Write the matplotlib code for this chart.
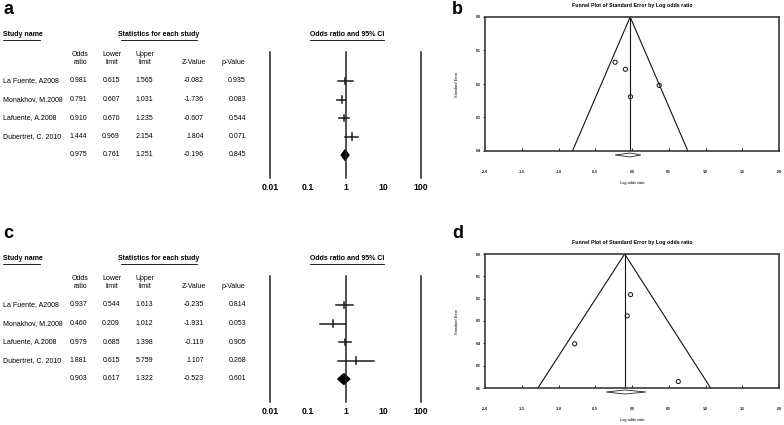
import numpy as np
import matplotlib.pyplot as plt
from matplotlib import font_manager, transforms
from matplotlib.lines import Line2D
from matplotlib.patches import Polygon

# --- data ---
studies = ['La Fuente, A2008', 'Monakhov, M.2008', 'Lafuente, A.2008', 'Dubertret, C. 2010']

# panel a (last entry = pooled)
a_or = [0.981, 0.791, 0.910, 1.444, 0.975]
a_lo = [0.615, 0.607, 0.670, 0.969, 0.761]
a_hi = [1.565, 1.031, 1.235, 2.154, 1.251]
a_z = [-0.082, -1.736, -0.607, 1.804, -0.196]
a_p = [0.935, 0.083, 0.544, 0.071, 0.845]

# panel c
c_or = [0.937, 0.460, 0.979, 1.881, 0.903]
c_lo = [0.544, 0.209, 0.685, 0.615, 0.617]
c_hi = [1.613, 1.012, 1.398, 5.759, 1.322]
c_z = [-0.235, -1.931, -0.119, 1.107, -0.523]
c_p = [0.814, 0.053, 0.905, 0.268, 0.601]

or_ticks = [0.01, 0.1, 1, 10, 100]
or_tick_labels = ['0.01', '0.1', '1', '10', '100']

# panel b funnel: log odds ratio vs standard error
b_lor = [-0.02, -0.23, -0.09, 0.37]
b_se = [0.238, 0.135, 0.156, 0.204]
b_pooled = -0.025
b_base = [-0.81, 0.76]
b_diamond = [-0.23, 0.12]

# panel d funnel
d_lor = [-0.065, -0.78, -0.02, 0.63]
d_se = [0.277, 0.402, 0.182, 0.571]
d_pooled = -0.10
d_base = [-1.28, 1.07]
d_diamond = [-0.35, 0.19]

fn_ticks = [-2.0, -1.5, -1.0, -0.5, 0.0, 0.5, 1.0, 1.5, 2.0]

names = {f.name for f in font_manager.fontManager.ttflist}
NARROW = 'Liberation Sans Narrow' in names
TFONT = ['Liberation Sans Narrow', 'Liberation Sans'] if NARROW else ['Liberation Sans']
TSIZE = 6 if NARROW else 5.0

W, H = 784, 425
fig = plt.figure(figsize=(W / 100, H / 100), dpi=100)
fig.patch.set_facecolor('white')


def ftext(x, y, s, **kw):
    kw.setdefault('family', TFONT)
    kw.setdefault('fontsize', TSIZE)
    kw.setdefault('va', 'center')
    return fig.text(x / W, 1 - y / H, s, **kw)


def fline(x0, x1, y0, y1, **kw):
    fig.add_artist(Line2D([x0 / W, x1 / W], [1 - y0 / H, 1 - y1 / H], **kw))


def add_ax(x0, y0, x1, y1):
    return fig.add_axes([x0 / W, 1 - y1 / H, (x1 - x0) / W, (y1 - y0) / H])


def forest_panel(dy, letter, odds, lower, upper, zval, pval):
    ftext(3, 9 + dy, letter, family='Liberation Sans', fontsize=13, fontweight='bold')
    ftext(3, 35 + dy, 'Study name', fontweight='bold')
    fline(3, 40, 40 + dy, 40 + dy, color='k', lw=0.6)
    ftext(159, 35 + dy, 'Statistics for each study', fontweight='bold', ha='center')
    fline(121, 197, 40 + dy, 40 + dy, color='k', lw=0.6)
    ftext(347, 35 + dy, 'Odds ratio and 95% CI', fontweight='bold', ha='center')
    fline(310, 384, 40 + dy, 40 + dy, color='k', lw=0.6)

    ftext(80, 59 + dy, 'Odds\nratio', ha='center', linespacing=1.2)
    ftext(112, 59 + dy, 'Lower\nlimit', ha='center', linespacing=1.2)
    ftext(145, 59 + dy, 'Upper\nlimit', ha='center', linespacing=1.2)
    ftext(194, 63 + dy, 'Z-Value', ha='center')
    ftext(233, 63 + dy, 'p-Value', ha='center')

    for i in range(5):
        y = 81 + 18.5 * i + dy
        if i < 4:
            ftext(3, y, studies[i])
        ftext(87, y, f'{odds[i]:.3f}', ha='right')
        ftext(120, y, f'{lower[i]:.3f}', ha='right')
        ftext(153, y, f'{upper[i]:.3f}', ha='right')
        ftext(204, y, f'{zval[i]:.3f}', ha='right')
        ftext(246, y, f'{pval[i]:.3f}', ha='right')

    ax = add_ax(270, 52 + dy, 421, 178 + dy)
    ax.set_xscale('log')
    ax.set_xlim(0.01, 100)
    ax.set_ylim(5.24, -1.57)
    ax.axis('off')
    for v in [0.01, 1, 100]:
        ax.axvline(v, color='#222222', lw=1.1, clip_on=False)
    for i in range(4):
        ax.plot([lower[i], upper[i]], [i, i], color='#1a1a1a', lw=1.1)
        ax.plot([odds[i], odds[i]], [i - 0.17, i + 0.17], color='#1a1a1a', lw=1.1)
    h = 0.3
    ax.add_patch(Polygon([(lower[4], 4), (odds[4], 4 - h), (upper[4], 4), (odds[4], 4 + h)],
                         closed=True, facecolor='black', edgecolor='black', lw=0.8))
    tr = transforms.blended_transform_factory(ax.transData, ax.transAxes)
    for v, lab in zip(or_ticks, or_tick_labels):
        ax.text(v, -0.075, lab, transform=tr, ha='center', va='center',
                family='Liberation Sans', fontsize=6.3, fontweight='bold')


def funnel_panel(dy, letter_y, letter, ymax, lor, se, pooled, base, diam):
    ftext(452, letter_y, letter, family='Liberation Sans', fontsize=13, fontweight='bold')
    ftext(632, 5 + dy, 'Funnel Plot of Standard Error by Log odds ratio',
          ha='center', fontsize=TSIZE * 0.75, fontweight='bold')
    ftext(457, 84 + dy, 'Standard Error', ha='center', rotation=90, fontsize=TSIZE * 0.55)
    ftext(632, 183 + dy, 'Log odds ratio', ha='center', fontsize=TSIZE * 0.55)

    ax = add_ax(485, 17 + dy, 779, 151 + dy)
    ax.set_xlim(-2, 2)
    ax.set_ylim(ymax, 0)
    for s in ax.spines.values():
        s.set_color('#3a3a3a')
        s.set_linewidth(1.2)
    ax.plot([base[0], pooled, base[1]], [ymax, 0, ymax], color='#111111', lw=0.8, clip_on=False)
    ax.plot([pooled, pooled], [0, ymax], color='#111111', lw=0.8)
    ax.scatter(lor, se, s=9, facecolors='none', edgecolors='#111111', linewidths=0.7, zorder=3)

    off = ymax * 4 / 134
    hh = ymax * 2 / 134
    ax.add_patch(Polygon([(diam[0], ymax + off), (pooled, ymax + off - hh),
                          (diam[1], ymax + off), (pooled, ymax + off + hh)],
                         closed=True, facecolor='white', edgecolor='#222222', lw=0.6,
                         clip_on=False))

    ax.set_xticks(fn_ticks)
    ax.set_xticklabels([f'{t:.1f}' for t in fn_ticks])
    yt = np.round(np.arange(0, ymax + 1e-9, 0.1), 1)
    ax.set_yticks(yt)
    ax.set_yticklabels([f'{t:.1f}' for t in yt])
    ax.tick_params(axis='x', direction='in', length=2, width=0.6, pad=14,
                   labelsize=TSIZE * 0.5)
    ax.tick_params(axis='y', direction='out', length=1.5, width=0.6, pad=1.5,
                   labelsize=TSIZE * 0.5)
    for lab in ax.get_xticklabels() + ax.get_yticklabels():
        lab.set_family(TFONT)
        lab.set_fontweight('bold')


forest_panel(0, 'a', a_or, a_lo, a_hi, a_z, a_p)
forest_panel(224, 'c', c_or, c_lo, c_hi, c_z, c_p)
funnel_panel(0, 9, 'b', 0.4, b_lor, b_se, b_pooled, b_base, b_diamond)
funnel_panel(237, 233, 'd', 0.6, d_lor, d_se, d_pooled, d_base, d_diamond)

fig.savefig('out.png', dpi=100)
